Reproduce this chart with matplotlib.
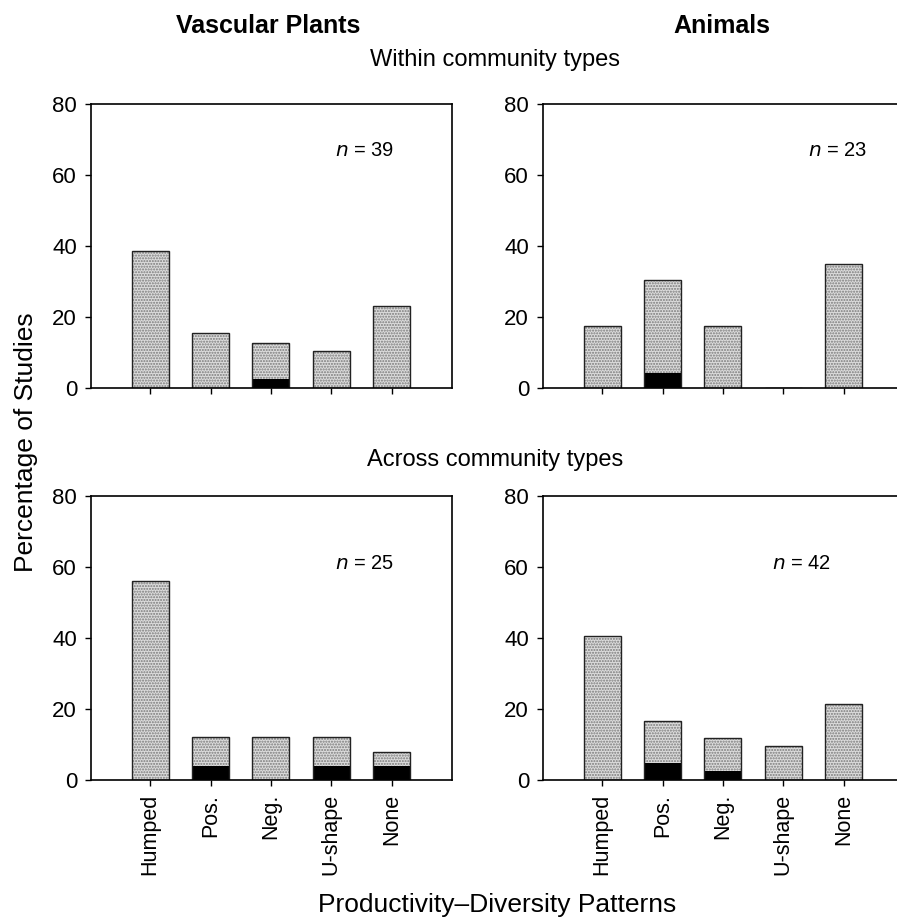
import matplotlib.pyplot as plt
import numpy as np

plt.rcParams['font.family'] = ['Liberation Sans', 'DejaVu Sans']

patterns = ['Humped', 'Pos.', 'Neg.', 'U-shape', 'None']

# percentage of studies (total bar height) and the black bottom part
plants_within = [38.5, 15.4, 12.8, 10.3, 23.1]
plants_within_black = [0, 0, 2.6, 0, 0]
animals_within = [17.4, 30.4, 17.4, 0, 34.8]
animals_within_black = [0, 4.3, 0, 0, 0]
plants_across = [56.0, 12.0, 12.0, 12.0, 8.0]
plants_across_black = [0, 4.0, 0, 4.0, 4.0]
animals_across = [40.5, 16.7, 11.9, 9.5, 21.4]
animals_across_black = [0, 4.8, 2.4, 0, 0]

n_labels = ['39', '23', '25', '42']

fig = plt.figure(figsize=(8.97, 9.23), dpi=100)
W, H = 897, 923


def make_axes(left, top, right, bottom):
    return fig.add_axes([left / W, 1 - bottom / H, (right - left) / W, (bottom - top) / H])


axes = [
    make_axes(91, 104, 452, 388),
    make_axes(543, 104, 904, 388),
    make_axes(91, 496, 452, 780),
    make_axes(543, 496, 904, 780),
]

data = [
    (plants_within, plants_within_black),
    (animals_within, animals_within_black),
    (plants_across, plants_across_black),
    (animals_across, animals_across_black),
]
n_xpos = [3.55, 3.9, 3.55, 3.3]
n_ypos = [67, 67, 61, 61]

x = np.arange(len(patterns))
for i, ax in enumerate(axes):
    vals, black = data[i]
    # stippled grey fill, then black part, then outline
    ax.bar(x, vals, width=0.61, color='#dcdcdc', hatch='......', edgecolor='#7a7a7a', linewidth=0)
    ax.bar(x, black, width=0.61, color='black', linewidth=0)
    ax.bar(x, vals, width=0.61, fill=False, edgecolor='#222222', linewidth=1.0)
    ax.set_xlim(-0.98, 5.0)
    ax.set_ylim(0, 80)
    ax.set_yticks([0, 20, 40, 60, 80])
    ax.set_xticks(x)
    ax.tick_params(direction='out', length=4, width=1, labelsize=16, pad=6)
    if i >= 2:
        ax.set_xticklabels(patterns, rotation=90, fontsize=15.5)
    else:
        ax.set_xticklabels([])
    for s in ax.spines.values():
        s.set_linewidth(1.2)
    ax.text(n_xpos[i], n_ypos[i], '$n$ = ' + n_labels[i], fontsize=14.5, ha='center', va='center')

fig.text(268 / W, 1 - 26 / H, 'Vascular Plants', fontsize=18, fontweight='bold', ha='center', va='center')
fig.text(722 / W, 1 - 26 / H, 'Animals', fontsize=18, fontweight='bold', ha='center', va='center')
fig.text(495 / W, 1 - 60 / H, 'Within community types', fontsize=17, ha='center', va='center')
fig.text(495 / W, 1 - 460 / H, 'Across community types', fontsize=17, ha='center', va='center')
fig.text(26 / W, 1 - 442 / H, 'Percentage of Studies', fontsize=19, rotation=90, ha='center', va='center')
fig.text(497 / W, 1 - 905 / H, 'Productivity\u2013Diversity Patterns', fontsize=19, ha='center', va='center')

fig.savefig('out.png', dpi=100)
